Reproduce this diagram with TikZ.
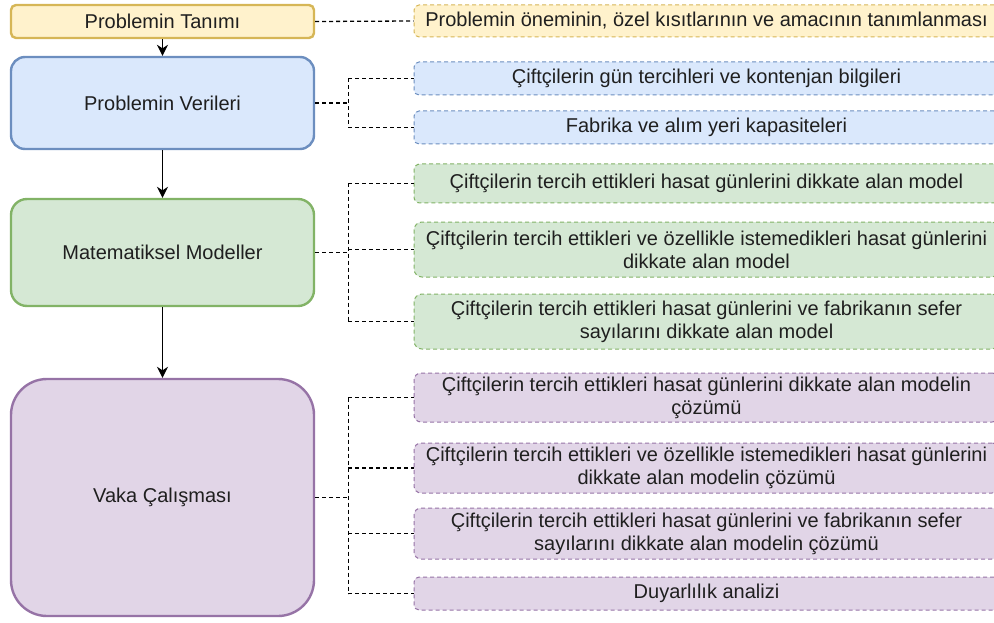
\documentclass[tikz,border=0pt]{standalone}
\usepackage{fontspec}
\setmainfont{Liberation Sans}
\usetikzlibrary{arrows.meta, positioning}

\definecolor{tanimfill}{HTML}{FFF2CC}
\definecolor{tanimline}{HTML}{D6B656}
\definecolor{verifill}{HTML}{DAE8FC}
\definecolor{veriline}{HTML}{6C8EBF}
\definecolor{modelfill}{HTML}{D5E8D4}
\definecolor{modelline}{HTML}{82B366}
\definecolor{vakafill}{HTML}{E1D5E7}
\definecolor{vakaline}{HTML}{9673A6}

\begin{document}
\begin{tikzpicture}
  [
    x                 = 1pt,
    y                 = -1pt,
    every node/.style = {font=\fontsize{20}{23}\selectfont, text=black!88, align=center, inner sep=0pt},
    stage/.style      = {draw, line width=2.4pt, minimum width=303pt},
    detail/.style     = {draw, line width=1pt, dash pattern=on 4pt off 3pt, minimum width=585pt},
    link/.style       = {draw, line width=1.3pt, dash pattern=on 4pt off 3pt},
    flow/.style       = {draw, line width=1.3pt, -{Stealth[length=11pt, width=11pt]}}
  ]

  \useasboundingbox (0,0) rectangle (994,623);

  % ana adimlar
  \node[stage, fill=tanimfill, draw=tanimline, minimum height=33pt, rounded corners=5pt]
    (tanim) at (162.5,21.5) {Problemin Tanımı};
  \node[stage, fill=verifill, draw=veriline, minimum height=92pt, rounded corners=14pt]
    (veri) at (162.5,103) {Problemin Verileri};
  \node[stage, fill=modelfill, draw=modelline, minimum height=107pt, rounded corners=16pt]
    (model) at (162.5,252.5) {Matematiksel Modeller};
  \node[stage, fill=vakafill, draw=vakaline, minimum height=237pt, rounded corners=36pt]
    (vaka) at (162.5,497.5) {Vaka Çalışması};

  \draw[flow] (tanim) -- (veri);
  \draw[flow] (veri) -- (model);
  \draw[flow] (model) -- (vaka);

  % ayrintilar
  \node[detail, fill=tanimfill, draw=tanimline, minimum height=32pt, rounded corners=5pt]
    (tanimA) at (706.5,21) {Problemin öneminin, özel kısıtlarının ve amacının tanımlanması};

  \node[detail, fill=verifill, draw=veriline, minimum height=33pt, rounded corners=5pt]
    (veriA) at (706.5,78.5) {Çiftçilerin gün tercihleri ve kontenjan bilgileri};
  \node[detail, fill=verifill, draw=veriline, minimum height=33pt, rounded corners=5pt]
    (veriB) at (706.5,127.5) {Fabrika ve alım yeri kapasiteleri};

  \node[detail, fill=modelfill, draw=modelline, minimum height=39pt, rounded corners=6pt]
    (modelA) at (706.5,183.5) {Çiftçilerin tercih ettikleri hasat günlerini dikkate alan model};
  \node[detail, fill=modelfill, draw=modelline, minimum height=55pt, rounded corners=8pt]
    (modelB) at (706.5,249.5) {Çiftçilerin tercih ettikleri ve özellikle istemedikleri hasat günlerini\\dikkate alan model};
  \node[detail, fill=modelfill, draw=modelline, minimum height=55pt, rounded corners=8pt]
    (modelC) at (706.5,321.5) {Çiftçilerin tercih ettikleri hasat günlerini ve fabrikanın sefer\\sayılarını dikkate alan model};

  \node[detail, fill=vakafill, draw=vakaline, minimum height=49pt, rounded corners=7pt]
    (vakaA) at (706.5,397.5) {Çiftçilerin tercih ettikleri hasat günlerini dikkate alan modelin\\çözümü};
  \node[detail, fill=vakafill, draw=vakaline, minimum height=50pt, rounded corners=7pt]
    (vakaB) at (706.5,468) {Çiftçilerin tercih ettikleri ve özellikle istemedikleri hasat günlerini\\dikkate alan modelin çözümü};
  \node[detail, fill=vakafill, draw=vakaline, minimum height=51pt, rounded corners=7pt]
    (vakaC) at (706.5,533.5) {Çiftçilerin tercih ettikleri hasat günlerini ve fabrikanın sefer\\sayılarını dikkate alan modelin çözümü};
  \node[detail, fill=vakafill, draw=vakaline, minimum height=33pt, rounded corners=5pt]
    (vakaD) at (706.5,593.5) {Duyarlılık analizi};

  % kesikli baglantilar
  \coordinate (veriK)  at ([xshift=33pt]veri.east);
  \coordinate (modelK) at ([xshift=33pt]model.east);
  \coordinate (vakaK)  at ([xshift=33pt]vaka.east);

  \draw[link] (tanim.east) -- (tanimA.west);

  \draw[link] (veri.east) -- (veriK);
  \draw[link] (veriK |- veriA.west) -- (veriK |- veriB.west);
  \foreach \hedef in {veriA, veriB}
    \draw[link] (veriK |- \hedef.west) -- (\hedef.west);

  \draw[link] (model.east) -- (modelK);
  \draw[link] (modelK |- modelA.west) -- (modelK |- modelC.west);
  \foreach \hedef in {modelA, modelB, modelC}
    \draw[link] (modelK |- \hedef.west) -- (\hedef.west);

  \draw[link] (vaka.east) -- (vakaK);
  \draw[link] (vakaK |- vakaA.west) -- (vakaK |- vakaD.west);
  \foreach \hedef in {vakaA, vakaB, vakaC, vakaD}
    \draw[link] (vakaK |- \hedef.west) -- (\hedef.west);
\end{tikzpicture}
\end{document}
